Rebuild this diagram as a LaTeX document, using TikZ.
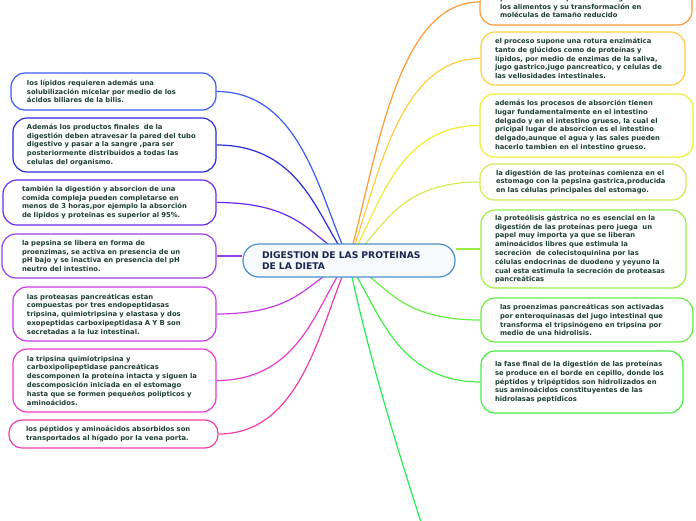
\documentclass[tikz,border=0pt]{standalone}
\usepackage{fontspec}
\setmainfont{DejaVu Sans}
\usetikzlibrary{calc,backgrounds}
\definecolor{boxtext}{HTML}{1E4034}
\definecolor{ctext}{HTML}{1A2550}
\definecolor{cC}{HTML}{4A90C8}
\definecolor{cL1}{HTML}{3A5CF5}
\definecolor{cL2}{HTML}{2B2BDD}
\definecolor{cL3}{HTML}{6A2BE8}
\definecolor{cL4}{HTML}{9A3EE8}
\definecolor{cL5}{HTML}{C63AE8}
\definecolor{cL6}{HTML}{E83AD0}
\definecolor{cL7}{HTML}{F03CA8}
\definecolor{cR1}{HTML}{FF9933}
\definecolor{cR2}{HTML}{FFCC44}
\definecolor{cR3}{HTML}{EEEE33}
\definecolor{cR4}{HTML}{CCEE55}
\definecolor{cR5}{HTML}{99EE44}
\definecolor{cR6}{HTML}{66EE44}
\definecolor{cR7}{HTML}{44EE44}
\definecolor{cB}{HTML}{22EE55}
\begin{document}
\begin{tikzpicture}[x=1pt,y=-1pt,
  box/.style={draw, line width=1.2pt, rounded corners=14pt, fill=white, align=left,
    font=\fontsize{6.8}{8.8}\selectfont\bfseries, text=boxtext, inner ysep=2pt},
  center/.style={draw=cC, line width=1.2pt, rounded corners=16pt, fill={rgb,255:red,246;green,250;blue,253},
    align=left, font=\fontsize{9.2}{11.5}\selectfont\bfseries, text=ctext, inner ysep=2pt},
  conn/.style={line width=1.2pt, to path={let \p1=(\tikztostart), \p2=(\tikztotarget) in
    .. controls ({\x1+0.2*(\x2-\x1)},{\y1+0.4*(\y2-\y1)}) and ({\x1+0.37*(\x2-\x1)},\y2) .. (\tikztotarget)}},
  straight/.style={line width=1.2pt}
]
\path[use as bounding box] (0,0) rectangle (696,520);

% central node
\node[center, minimum width=212pt, minimum height=33pt, text width=174pt, inner xsep=19pt] (C) at (349,260.5)
  {DIGESTION DE LAS PROTEINAS\\DE LA DIETA};

% left nodes
\node[box, draw=cL1, minimum width=205pt, minimum height=37pt, text width=173pt, inner xsep=16pt] (L1) at (113.5,91.5)
  {los lípidos requieren además una\\solubilización micelar por medio de los\\ácidos biliares de la bilis.};
\node[box, draw=cL2, minimum width=203pt, minimum height=54pt, text width=175pt, inner xsep=14pt] (L2) at (114.5,145)
  {Además los productos finales\ \ de la\\digestión deben atravesar la pared del tubo\\digestivo y pasar a la sangre ,para ser\\posteriormente distribuidos a todas las\\celulas del organismo.};
\node[box, draw=cL3, minimum width=213pt, minimum height=45pt, text width=175pt, inner xsep=19pt] (L3) at (109.5,202.5)
  {también la digestión y absorcion de una\\comida compleja pueden completarse en\\menos de 3 horas,por ejemplo la absorción\\de lipidos y proteinas es superior al 95\%.};
\node[box, draw=cL4, minimum width=214pt, minimum height=44pt, text width=174pt, inner xsep=20pt] (L4) at (109,256)
  {la pepsina se libera en forma de\\proenzimas, se activa en presencia de un\\pH bajo y se inactiva en presencia del pH\\neutro del intestino.};
\node[box, draw=cL5, minimum width=203pt, minimum height=54pt, text width=175pt, inner xsep=14pt] (L5) at (114.5,314)
  {las proteasas pancreáticas estan\\compuestas por tres endopeptidasas\\tripsina, quimiotripsina y elastasa y dos\\exopeptidas carboxipeptidasa A Y B son\\secretadas a la luz intestinal.};
\node[box, draw=cL6, minimum width=203pt, minimum height=63pt, text width=175pt, inner xsep=14pt] (L6) at (114.5,380.5)
  {la tripsina quimiotripsina y\\carboxipolipeptidase pancreáticas\\descomponen la proteína intacta y siguen la\\descomposición iniciada en el estomago\\hasta que se formen pequeños polípticos y\\aminoácidos.};
\node[box, draw=cL7, rounded corners=13pt, minimum width=209pt, minimum height=28pt, text width=175pt, inner xsep=17pt] (L7) at (113.5,434)
  {los péptidos y aminoácidos absorbidos son\\transportados al hígado por la vena porta.};

% right nodes
\node[box, draw=cR1, minimum width=212pt, minimum height=37pt, text width=172pt, inner xsep=20pt] (R1) at (586,6.5)
  {por los cuales se produce la degradación de\\los alimentos y su transformación en\\moléculas de tamaño reducido};
\node[box, draw=cR2, minimum width=204pt, minimum height=53pt, text width=176pt, inner xsep=14pt] (R2) at (583,58.5)
  {el proceso supone una rotura enzimática\\tanto de glúcidos como de proteínas y\\lípidos, por medio de enzimas de la saliva,\\jugo gastrico,jugo pancreatico, y celulas de\\las vellosidades intestinales.};
\node[box, draw=cR3, minimum width=213pt, minimum height=63pt, text width=183pt, inner xsep=15pt] (R3) at (586.5,125.5)
  {además los procesos de absorción tienen\\lugar fundamentalmente en el intestino\\delgado y en el intestino grueso, la cual el\\pricipal lugar de absorcion es el intestino\\delgado,aunque el agua y las sales pueden\\hacerlo tambien en el intestino grueso.};
\node[box, draw=cR4, minimum width=206pt, minimum height=36pt, text width=174pt, inner xsep=16pt] (R4) at (583,182)
  {la digestión de las proteínas comienza en el\\estomago con la pepsina gastrica,producida\\en las células principales del estomago.};
\node[box, draw=cR5, minimum width=205pt, minimum height=78pt, text width=177pt, inner xsep=14pt] (R5) at (583.5,249)
  {la proteólisis gástrica no es esencial en la\\digestión de las proteínas pero juega\ \ un\\papel muy importa ya que se liberan\\aminoácidos libres que estimula la\\secreción\ \ de colecistoquinina por las\\células endocrinas de duodeno y yeyuno la\\cual esta estimula la secreción de proteasas\\pancreáticas};
\node[box, draw=cR6, minimum width=212pt, minimum height=44pt, text width=174pt, inner xsep=19pt] (R6) at (587,320)
  {las proenzimas pancreáticas son activadas\\por enteroquinasas del jugo intestinal que\\transforma el tripsinógeno en tripsina por\\medio de una hidrolisis.};
\node[box, draw=cR7, minimum width=202pt, minimum height=62pt, text width=174pt, inner xsep=14pt] (R7) at (582,382)
  {la fase final de la digestión de las proteínas\\se produce en el borde en cepillo, donde los\\péptidos y tripéptidos son hidrolizados en\\sus aminoácidos constituyentes de las\\hidrolasas peptidicos};

% connector start points on the central node
\coordinate (sL1) at (342,244);
\coordinate (sL2) at (338,244);
\coordinate (sL3) at (328,244);
\coordinate (sL5) at (323,277);
\coordinate (sL6) at (337,277);
\coordinate (sL7) at (342,277);
\coordinate (sR1) at (353,244);
\coordinate (sR2) at (355,244);
\coordinate (sR3) at (358,244);
\coordinate (sR4) at (365,244);
\coordinate (sR6) at (370,277);
\coordinate (sR7) at (357,277);
\coordinate (sB) at (352,277);
\coordinate (offB) at (440,580);
\coordinate (eR1) at (R1.west |- 0,2);

\begin{scope}[on background layer]
\draw[conn, draw=cL1] (sL1) to (L1.east);
\draw[conn, draw=cL2] (sL2) to (L2.east);
\draw[conn, draw=cL3] (sL3) to (L3.east);
\draw[straight, draw=cL4] (L4.east) -- (L4.east -| C.west);
\draw[conn, draw=cL5] (sL5) to (L5.east);
\draw[conn, draw=cL6] (sL6) to (L6.east);
\draw[conn, draw=cL7] (sL7) to (L7.east);
\draw[conn, draw=cR1] (sR1) to (eR1);
\draw[conn, draw=cR2] (sR2) to (R2.west);
\draw[conn, draw=cR3] (sR3) to (R3.west);
\draw[conn, draw=cR4] (sR4) to (R4.west);
\draw[straight, draw=cR5] (R5.west -| C.east) -- (R5.west);
\draw[conn, draw=cR6] (sR6) to (R6.west);
\draw[conn, draw=cR7] (sR7) to (R7.west);
\draw[straight, draw=cB] (sB) .. controls (370,360) and (400,460) .. (offB);
\end{scope}
\end{tikzpicture}
\end{document}
